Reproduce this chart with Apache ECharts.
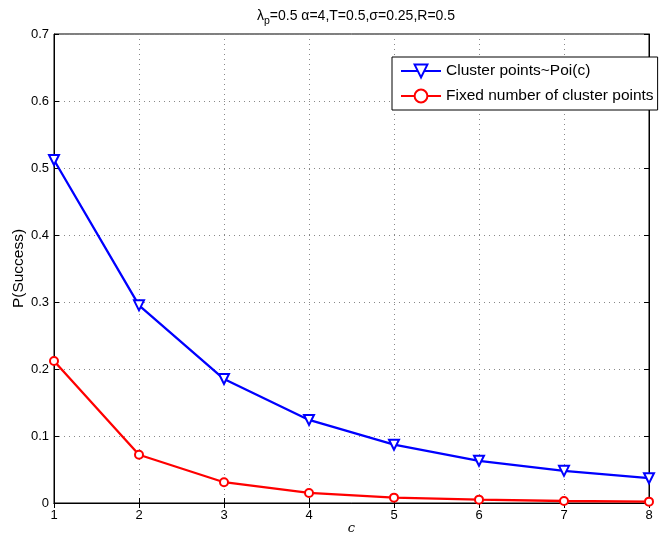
<!DOCTYPE html>
<html><head><meta charset="utf-8">
<script src="https://cdn.jsdelivr.net/npm/echarts@6/dist/echarts.min.js"></script>
<style>html,body{margin:0;padding:0;background:#fff;overflow:hidden}#c{width:660px;height:533px}</style>
</head><body><div id="c"></div>
<script>
const xValues = [1, 2, 3, 4, 5, 6, 7, 8];
const poissonSeries = [0.512, 0.295, 0.185, 0.124, 0.087, 0.063, 0.048, 0.037];
const fixedSeries = [0.212, 0.072, 0.031, 0.015, 0.008, 0.005, 0.003, 0.002];
const seriesNames = ['Cluster points~Poi(c)', 'Fixed number of cluster points'];
const yTicks = ['0', '0.1', '0.2', '0.3', '0.4', '0.5', '0.6', '0.7'];

const font = 'Liberation Sans, Arial, Helvetica, sans-serif';
const chart = echarts.init(document.getElementById('c'), null, {renderer: 'canvas'});
const gridLine = {show: true, lineStyle: {color: '#888', type: [1, 4], width: 1}};
chart.setOption({
  animation: false,
  backgroundColor: '#fff',
  title: {
    text: '{a|λ}{s|p}{a|=0.5 α=4,T=0.5,σ=0.25,R=0.5}',
    left: 351, top: 1, textAlign: 'center',
    textStyle: {fontWeight: 'normal', rich: {
      a: {fontFamily: font, fontSize: 14, fontWeight: 'normal', color: '#000'},
      s: {fontFamily: font, fontSize: 10.5, fontWeight: 'normal', color: '#000', padding: [10, 0, 0, 0]}
    }}
  },
  grid: {left: 54, right: 11, top: 34, bottom: 30, show: true, borderColor: '#000', borderWidth: 1,
    outerBoundsMode: 'none', containLabel: false},
  legend: {
    orient: 'vertical', left: 392, top: 57,
    backgroundColor: '#fff', borderColor: '#000', borderWidth: 1,
    padding: [6, 4, 6, 8], itemGap: 9, itemWidth: 40, itemHeight: 16,
    textStyle: {fontFamily: font, fontSize: 15.5, color: '#000'},
    z: 10,
    data: seriesNames
  },
  xAxis: [{
    type: 'value', min: 1, max: 8, interval: 1,
    name: 'c', nameLocation: 'middle', nameGap: 19, nameMoveOverlap: false,
    nameTextStyle: {fontFamily: 'DejaVu Serif, Liberation Serif, serif', fontStyle: 'italic', fontSize: 13, color: '#000'},
    axisLine: {lineStyle: {color: '#000'}},
    axisTick: {inside: true, length: 5, lineStyle: {color: '#000'}},
    axisLabel: {fontFamily: font, fontSize: 13, color: '#000', margin: 6},
    splitLine: gridLine
  }, {
    type: 'value', min: 1, max: 8, interval: 1, position: 'top',
    axisLine: {lineStyle: {color: '#000'}},
    axisTick: {inside: true, length: 5, lineStyle: {color: '#000'}},
    axisLabel: {show: false}, splitLine: {show: false}
  }],
  yAxis: [{
    type: 'value', min: 0, max: 0.7, interval: 0.1,
    name: 'P(Success)', nameLocation: 'middle', nameGap: 27, nameMoveOverlap: false,
    nameTextStyle: {fontFamily: font, fontSize: 15.5, color: '#000'},
    axisLine: {show: true, lineStyle: {color: '#000'}},
    axisTick: {show: true, inside: true, length: 5, lineStyle: {color: '#000'}},
    axisLabel: {fontFamily: font, fontSize: 13, color: '#000', margin: 5,
      formatter: (v) => yTicks[Math.round(v * 10)]},
    splitLine: gridLine
  }, {
    type: 'value', min: 0, max: 0.7, interval: 0.1, position: 'right',
    axisLine: {show: true, lineStyle: {color: '#000'}},
    axisTick: {show: true, inside: true, length: 5, lineStyle: {color: '#000'}},
    axisLabel: {show: false}, splitLine: {show: false}
  }],
  series: [{
    name: seriesNames[0], type: 'line',
    data: xValues.map((x, i) => [x, poissonSeries[i]]),
    symbol: 'emptyTriangle', symbolRotate: 180, symbolSize: 10,
    lineStyle: {color: '#0000ff', width: 2.3},
    itemStyle: {color: '#0000ff', borderColor: '#0000ff', borderWidth: 2.5},
    z: 3
  }, {
    name: seriesNames[1], type: 'line',
    data: xValues.map((x, i) => [x, fixedSeries[i]]),
    symbol: 'emptyCircle', symbolSize: 8,
    lineStyle: {color: '#ff0000', width: 2.3},
    itemStyle: {color: '#ff0000', borderColor: '#ff0000', borderWidth: 2},
    z: 3
  }]
});
</script></body></html>
